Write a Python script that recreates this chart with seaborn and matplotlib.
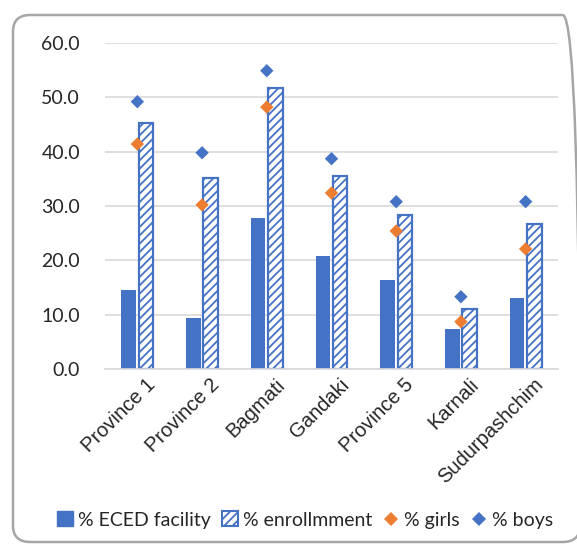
import matplotlib
matplotlib.use("Agg")
import matplotlib.pyplot as plt
from matplotlib.patches import FancyBboxPatch, Patch
from matplotlib.lines import Line2D
from matplotlib.transforms import ScaledTranslation
import seaborn as sns
import pandas as pd

provinces = ["Province 1", "Province 2", "Bagmati", "Gandaki",
             "Province 5", "Karnali", "Sudurpashchim"]
eced_facility = [14.5, 9.4, 27.8, 20.8, 16.4, 7.4, 13.1]
enrollment = [45.3, 35.2, 51.7, 35.5, 28.4, 11.0, 26.7]
girls = [41.4, 30.2, 48.2, 32.4, 25.4, 8.7, 22.1]
boys = [49.2, 39.8, 54.9, 38.7, 30.8, 13.3, 30.8]
yticks = [0, 10, 20, 30, 40, 50, 60]

BLUE = "#4472C4"
ORANGE = "#ED7D31"

sns.set_theme(style="white")
plt.rcParams["font.family"] = ["Lato", "DejaVu Sans"]
plt.rcParams["hatch.color"] = BLUE
plt.rcParams["hatch.linewidth"] = 1.3

bars = pd.DataFrame({
    "province": provinces * 2,
    "value": eced_facility + enrollment,
    "series": ["% ECED facility"] * len(provinces) + ["% enrollmment"] * len(provinces),
})
dots = pd.DataFrame({
    "province": provinces * 2,
    "value": girls + boys,
    "series": ["% girls"] * len(provinces) + ["% boys"] * len(provinces),
})

fig = plt.figure(figsize=(5.77, 5.45), dpi=100)
W, H = 577, 545
ax = fig.add_axes([105 / W, 1 - 369 / H, (558 - 105) / W, (369 - 43) / H])

sns.barplot(data=bars, x="province", y="value", hue="series",
            palette=[BLUE, BLUE], width=0.53, gap=0.15, ax=ax,
            legend=False, errorbar=None, saturation=1)

n = len(provinces)
for i, p in enumerate(ax.patches[:2 * n]):
    if i >= n:
        p.set_facecolor("white")
        p.set_edgecolor(BLUE)
        p.set_linewidth(1.6)
        p.set_hatch("////")
    else:
        p.set_linewidth(0)

sns.stripplot(data=dots, x="province", y="value", hue="series",
              palette=[ORANGE, BLUE], jitter=False, dodge=False,
              marker="D", size=6.8, linewidth=0, ax=ax, legend=False,
              zorder=5)

ax.set_ylim(0, 60)
ax.set_yticks(yticks)
ax.set_yticklabels([f"{v:.1f}" for v in yticks], fontsize=14, color="#262626")
ax.set_xlim(-0.5, n - 0.5)
ax.set_xlabel("")
ax.set_ylabel("")
ax.tick_params(axis="y", length=0, pad=18)
ax.tick_params(axis="x", length=0, pad=2)
shift = ScaledTranslation(8 / 100, -3 / 100, fig.dpi_scale_trans)
for lab in ax.get_xticklabels():
    lab.set_rotation(45)
    lab.set_ha("right")
    lab.set_rotation_mode("anchor")
    lab.set_fontsize(14.5)
    lab.set_fontfamily(["Liberation Sans", "DejaVu Sans"])
    lab.set_color("#262626")
    lab.set_transform(lab.get_transform() + shift)

ax.yaxis.grid(True, color="#D9D9D9", linewidth=1.2)
ax.set_axisbelow(True)
for side in ["left", "right", "top"]:
    ax.spines[side].set_visible(False)
ax.spines["bottom"].set_color("#D9D9D9")
ax.spines["bottom"].set_linewidth(1.2)

handles = [
    Patch(facecolor=BLUE, edgecolor=BLUE, label="% ECED facility"),
    Patch(facecolor="white", edgecolor=BLUE, hatch="////", linewidth=1.5,
          label="% enrollmment"),
    Line2D([], [], marker="D", color="none", markerfacecolor=ORANGE,
           markeredgewidth=0, markersize=7, label="% girls"),
    Line2D([], [], marker="D", color="none", markerfacecolor=BLUE,
           markeredgewidth=0, markersize=7, label="% boys"),
]
fig.legend(handles=handles, loc="center", bbox_to_anchor=(305 / W, 1 - 520 / H),
           ncol=4, frameon=False, fontsize=14, handlelength=0.8,
           handleheight=0.8, handletextpad=0.25, columnspacing=0.6,
           labelcolor="#262626")

# rounded chart-area border; its right side runs just past the canvas edge
frame = FancyBboxPatch((13 / W, 1 - 542 / H), (580 - 13) / W, (542 - 15) / H,
                       boxstyle="round,pad=0,rounding_size=0.03",
                       transform=fig.transFigure, facecolor="none",
                       edgecolor="#A6A6A6", linewidth=1.8, clip_on=False)
fig.patches.append(frame)

fig.savefig("out.png", dpi=100)
